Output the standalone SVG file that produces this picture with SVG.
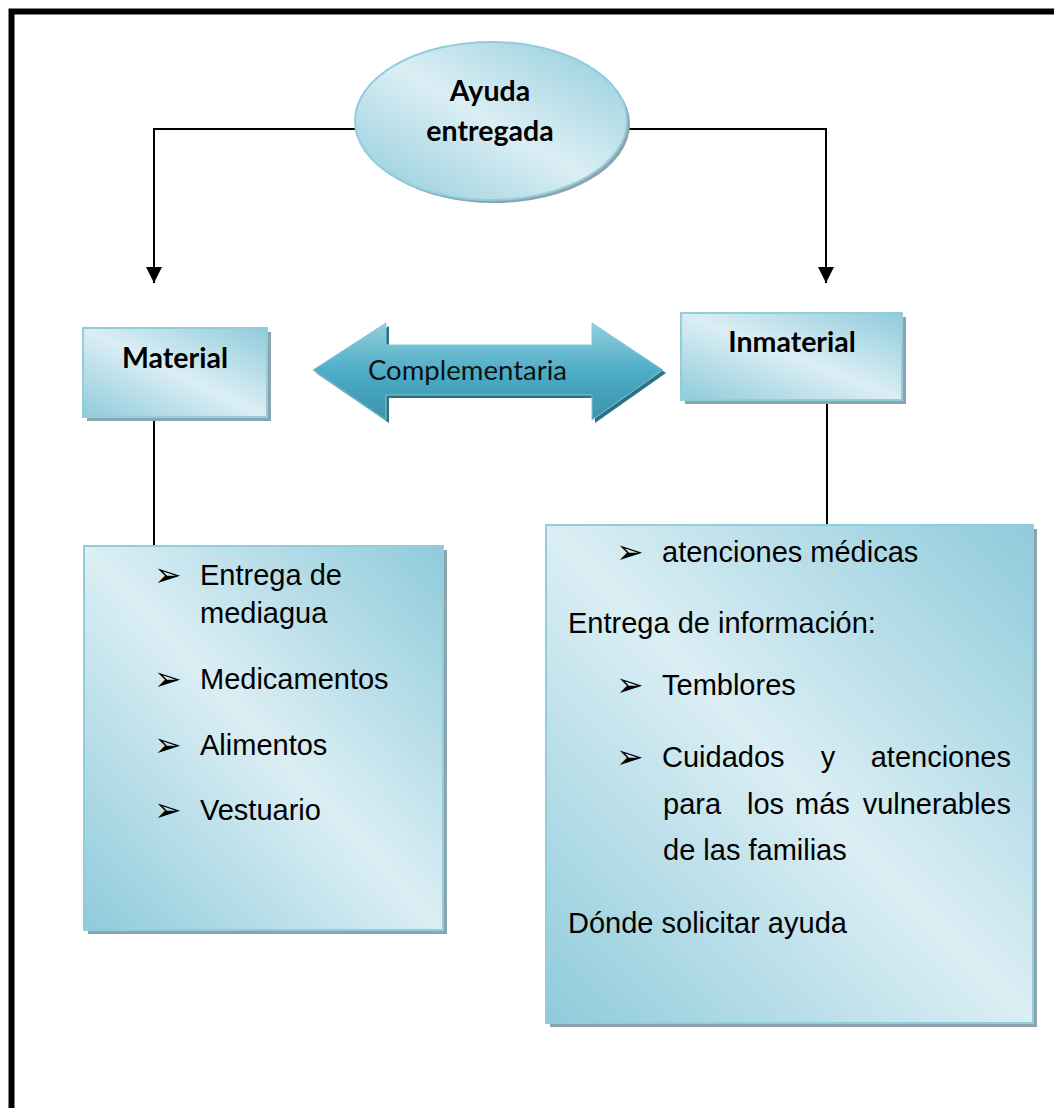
<svg xmlns="http://www.w3.org/2000/svg" width="1054" height="1108" viewBox="0 0 1054 1108">
<defs>
<linearGradient id="boxg" x1="1" y1="0" x2="0" y2="1">
<stop offset="0" stop-color="#8fcbdb"/>
<stop offset="0.5" stop-color="#dbeef4"/>
<stop offset="1" stop-color="#8fcbdb"/>
</linearGradient>
<linearGradient id="arrg" x1="0" y1="0" x2="0" y2="1">
<stop offset="0" stop-color="#93d0de"/>
<stop offset="0.5" stop-color="#4dadc7"/>
<stop offset="1" stop-color="#3a93ab"/>
</linearGradient>
<marker id="ah" markerWidth="16" markerHeight="16" refX="16" refY="8" orient="auto" markerUnits="userSpaceOnUse">
<path d="M0,0 L16,8 L0,16 Z" fill="#000"/>
</marker>
<style>
.shadow{fill:#8ba4ad}
.box{fill:url(#boxg);stroke:#92cddc;stroke-width:2}
.lbl{font-family:Lato,"Liberation Sans",sans-serif;font-weight:bold;font-size:28.5px;fill:#000}
.body{font-family:"Liberation Sans",Arial,sans-serif;font-size:29px;fill:#000}
.bul{font-family:"DejaVu Sans",sans-serif;font-size:33px;fill:#000}
.conn{stroke:#000;stroke-width:2;fill:none}
</style>
</defs>
<rect x="0" y="0" width="1054" height="1108" fill="#fff"/>
<rect x="11.5" y="11.5" width="1060" height="1110" fill="none" stroke="#000" stroke-width="6"/>

<g id="connectors">
<polyline class="conn" points="356,129 154,129 154,283" marker-end="url(#ah)"/>
<polyline class="conn" points="627,129 826,129 826,283" marker-end="url(#ah)"/>
<line class="conn" x1="154" y1="417" x2="154" y2="546"/>
<line class="conn" x1="827" y1="400" x2="827" y2="525"/>
</g>

<g id="ayuda">
<ellipse cx="494" cy="124" rx="136" ry="79" class="shadow"/>
<ellipse cx="491" cy="121" rx="136" ry="79" class="box"/>
<text class="lbl" x="490" y="101" text-anchor="middle">Ayuda</text>
<text class="lbl" x="490" y="141" text-anchor="middle">entregada</text>
</g>

<g id="material">
<rect x="87" y="332" width="184" height="89" class="shadow"/>
<rect x="83" y="328" width="184" height="89" class="box"/>
<text class="lbl" x="175" y="368" text-anchor="middle">Material</text>
</g>

<g id="inmaterial">
<rect x="685" y="317" width="221" height="87" class="shadow"/>
<rect x="681" y="313" width="221" height="87" class="box"/>
<text class="lbl" x="792" y="352" text-anchor="middle">Inmaterial</text>
</g>

<g id="complementaria">
<polygon points="316,373 389,326 389,348 595,348 595,326 666,373 595,423 595,398 389,398 389,423" fill="#2f7085"/>
<polygon points="313,370 386,323 386,345 592,345 592,323 663,370 592,420 592,395 386,395 386,420" fill="url(#arrg)" stroke="#86c6d6" stroke-width="1"/>
<text x="368" y="380" font-family="Lato,'Liberation Sans',sans-serif" font-size="27" fill="#111" textLength="199" lengthAdjust="spacingAndGlyphs">Complementaria</text>
</g>

<g id="material-list">
<rect x="88" y="550" width="359" height="384" class="shadow"/>
<rect x="84" y="546" width="359" height="384" class="box"/>
<text class="bul" x="154" y="586">➢</text>
<text class="body" x="200" y="585">Entrega de</text>
<text class="body" x="200" y="623">mediagua</text>
<text class="bul" x="154" y="690">➢</text>
<text class="body" x="200" y="689">Medicamentos</text>
<text class="bul" x="154" y="756">➢</text>
<text class="body" x="200" y="755">Alimentos</text>
<text class="bul" x="154" y="821">➢</text>
<text class="body" x="200" y="820">Vestuario</text>
</g>

<g id="inmaterial-list">
<rect x="550" y="529" width="487" height="498" class="shadow"/>
<rect x="546" y="525" width="487" height="498" class="box"/>
<text class="bul" x="616" y="563">➢</text>
<text class="body" x="662" y="562">atenciones médicas</text>
<text class="body" x="568" y="633">Entrega de información:</text>
<text class="bul" x="616" y="696">➢</text>
<text class="body" x="662" y="695">Temblores</text>
<text class="bul" x="616" y="768">➢</text>
<text class="body" x="662" y="767">Cuidados</text>
<text class="body" x="828" y="767" text-anchor="middle">y</text>
<text class="body" x="1011" y="767" text-anchor="end">atenciones</text>
<text class="body" x="663" y="814">para</text>
<text class="body" x="747" y="814">los</text>
<text class="body" x="795" y="814">más</text>
<text class="body" x="1011" y="814" text-anchor="end">vulnerables</text>
<text class="body" x="663" y="860">de las familias</text>
<text class="body" x="568" y="933">Dónde solicitar ayuda</text>
</g>
</svg>
